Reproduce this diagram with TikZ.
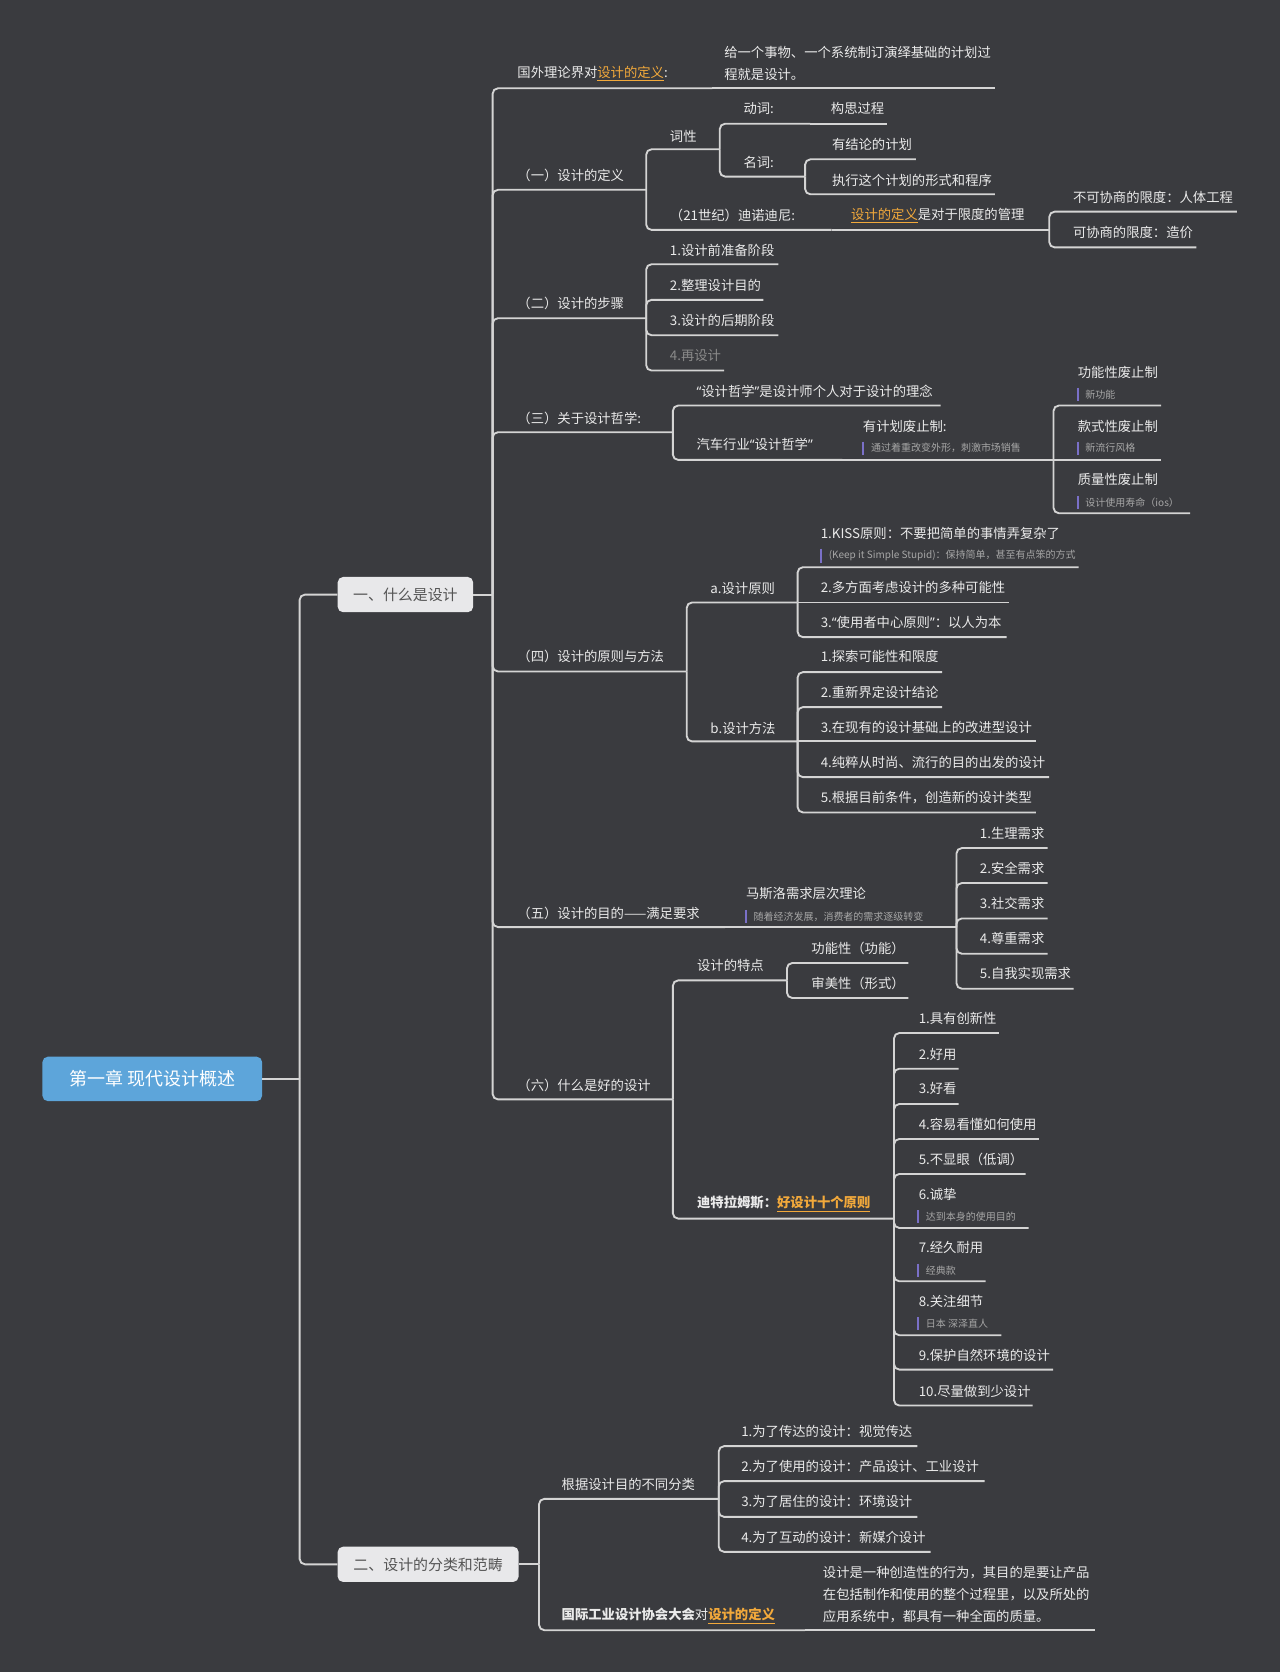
\documentclass[tikz,border=0pt]{standalone}
\usepackage{fontspec}
\newfontfamily\cjk{Noto Sans CJK SC}
\newfontfamily\lat{Noto Sans}
\newcommand\qo{{\lat “}}
\newcommand\qc{{\lat ”}}
\definecolor{bg}{HTML}{3A3B3F}
\definecolor{lc}{HTML}{D4D4D4}
\definecolor{tc}{HTML}{EAEAEA}
\definecolor{nc}{HTML}{A6A6A6}
\definecolor{hlc}{HTML}{F2A93B}
\definecolor{barc}{HTML}{7A70C8}
\definecolor{rootc}{HTML}{5DA5DA}
\definecolor{lonec}{HTML}{E8E8EA}
\definecolor{lonet}{HTML}{555555}
\definecolor{dimc}{HTML}{8A8A8A}
\newcommand\hlt[1]{\textcolor{hlc}{\underline{#1}}}
\tikzset{
  ln/.style={draw=lc, line width=1.4pt, rounded corners=4pt},
  tx/.style={anchor=west, inner sep=0pt, text=tc, font=\cjk\fontsize{10}{12}\selectfont},
  nt/.style={anchor=west, inner sep=0pt, text=nc, font=\cjk\fontsize{7.5}{9}\selectfont},
  barst/.style={draw=barc, line width=1.6pt},
  rootbox/.style={fill=rootc, rounded corners=4pt, minimum width=164.8pt, minimum height=33.3pt, text=white, font=\cjk\fontsize{13.5}{16}\selectfont, inner sep=0pt},
  lonebox/.style={fill=lonec, rounded corners=4pt, minimum height=26.4pt, text=lonet, font=\cjk\fontsize{11.2}{13}\selectfont, inner sep=0pt},
}
% name, x, y, text, end x, end y, parent end
\newcommand\lf[7]{\node[tx] (#1) at (#2,#3) {#4}; \coordinate (#1e) at (#5,#6); \draw[ln] (#7) |- (#1e);}
\newcommand\lfs[7]{\node[tx] (#1) at (#2,#3) {#4}; \coordinate (#1e) at (#5,#6); \draw[ln] (#7) -- (#1e);}
\newcommand\nnote[4]{\node[nt] (#1) at (#2,#3) {#4}; \draw[barst] ([xshift=-5.6pt,yshift=1.2pt]#1.north west) -- ([xshift=-5.6pt,yshift=-1.2pt]#1.south west);}
\begin{document}
\begin{tikzpicture}[x=0.8pt, y=-0.8pt]
\fill[bg] (0,0) rectangle (1200,1568);
\useasboundingbox (0,0) rectangle (1200,1568);

% root and level 1
\node[rootbox] (root) at (142.8,1011.8) {第一章 现代设计概述};
\node[lonebox, minimum width=101.6pt] (L1a) at (380.2,557.6) {一、什么是设计};
\node[lonebox, minimum width=135.8pt] (L1b) at (401.5,1467) {二、设计的分类和范畴};
\coordinate (Tr) at (281,1011.8);
\draw[ln] (root.east) -- (Tr);
\draw[ln] (Tr) |- (L1a.west);
\draw[ln] (Tr) |- (L1b.west);
\coordinate (Ta) at (462,557.6);
\draw[ln] (L1a.east) -- (Ta);
\coordinate (Tb) at (505.5,1467);
\draw[ln] (L1b.east) -- (Tb);

% A1
\lf{A1}{485}{68.7}{国外理论界对\hlt{设计的定义}:}{668}{82.8}{Ta}
\node[tx, align=left, font=\cjk\fontsize{10}{16.2}\selectfont] (A1c) at (679,59.5) {给一个事物、一个系统制订演绎基础的计划过\\程就是设计。};
\coordinate (A1ce) at (933,82.8);
\draw[ln] (A1e) -- (A1ce);

% B
\lf{B}{485}{164.4}{（一）设计的定义}{606}{178}{Ta}
\lf{Bone}{628}{127.5}{词性}{675}{140}{Be}
\lf{Bonea}{697}{102}{动词:}{760}{116}{Bonee}
\lfs{Boneac}{779}{102}{构思过程}{832}{116}{Boneae}
\lf{Boneb}{697}{152}{名词:}{755}{165.6}{Bonee}
\lf{Bonebi}{780}{135.3}{有结论的计划}{859}{149.4}{Bonebe}
\lf{Bonebii}{780}{168.9}{执行这个计划的形式和程序}{933}{182.2}{Bonebe}
\lf{Btwo}{628}{202}{（21世纪）迪诺迪尼:}{780}{215.6}{Be}
\lfs{Btwoc}{798}{202}{\hlt{设计的定义}是对于限度的管理}{984}{215.6}{Btwoe}
\lf{Btwoci}{1006}{185.3}{不可协商的限度：人体工程}{1160}{198.5}{Btwoce}
\lf{Btwocii}{1006}{218}{可协商的限度：造价}{1122}{232}{Btwoce}

% C
\lf{C}{485}{284.4}{（二）设计的步骤}{606}{298.4}{Ta}
\lf{Ci}{628}{234.4}{1.设计前准备阶段}{730}{247.8}{Ce}
\lf{Cii}{628}{267.2}{2.整理设计目的}{716}{281.2}{Ce}
\lf{Ciii}{628}{300.6}{3.设计的后期阶段}{730}{314.4}{Ce}
\lf{Civ}{628}{333.8}{\textcolor{dimc}{4.再设计}}{679}{347.5}{Ce}

% D
\lf{D}{485}{392.2}{（三）关于设计哲学:}{631}{405.3}{Ta}
\lf{Di}{653}{367.2}{\qo 设计哲学\qc 是设计师个人对于设计的理念}{882}{380.3}{De}
\lf{Dii}{653}{417.2}{汽车行业\qo 设计哲学\qc}{790}{431.3}{De}
\lfs{Diic}{809}{400}{有计划废止制:}{988}{431.3}{Diie}
\nnote{Diicn}{816.6}{420.3}{通过着重改变外形，刺激市场销售}
\lf{Diica}{1010.6}{349.4}{功能性废止制}{1089}{380.3}{Diice}
\nnote{Diican}{1017.7}{369.7}{新功能}
\lfs{Diicb}{1010.6}{400}{款式性废止制}{1089}{431.3}{Diice}
\nnote{Diicbn}{1017.7}{420.3}{新流行风格}
\lf{Diicc}{1010.6}{450}{质量性废止制}{1116}{481.3}{Diice}
\nnote{Diiccn}{1017.7}{471.3}{设计使用寿命（ios）}

% E
\lf{E}{485}{615.6}{（四）设计的原则与方法}{644}{629.7}{Ta}
\lf{Ei}{666}{551.6}{a.设计原则}{748}{565}{Ee}
\lf{Eia}{769.5}{500.6}{1.KISS原则：不要把简单的事情弄复杂了}{1011.6}{531.9}{Eie}
\nnote{Eian}{777}{521.2}{(Keep it Simple Stupid)：保持简单，甚至有点笨的方式}
\lfs{Eib}{769.5}{551}{2.多方面考虑设计的多种可能性}{946}{565}{Eie}
\lf{Eic}{769.5}{583.7}{3.\qo 使用者中心原则\qc：以人为本}{944}{597.5}{Eie}
\lf{Eii}{666}{682.8}{b.设计方法}{748}{695.3}{Ee}
\lf{Eiia}{769.5}{615.6}{1.探索可能性和限度}{883.5}{630.3}{Eiie}
\lf{Eiib}{769.5}{649}{2.重新界定设计结论}{883.5}{663.1}{Eiie}
\lfs{Eiic}{769.5}{681.9}{3.在现有的设计基础上的改进型设计}{971.5}{695.3}{Eiie}
\lf{Eiid}{769.5}{714.7}{4.纯粹从时尚、流行的目的出发的设计}{983.8}{728.8}{Eiie}
\lf{Eiie2}{769.5}{747.5}{5.根据目前条件，创造新的设计类型}{971.5}{761.9}{Eiie}

% F
\lf{F}{485}{856.3}{（五）设计的目的——满足要求}{680}{869.4}{Ta}
\lfs{Fi}{699.4}{838.1}{马斯洛需求层次理论}{897}{869.4}{Fe}
\nnote{Fin}{706.4}{859.4}{随着经济发展，消费者的需求逐级转变}
\lf{Fia}{918.7}{781.3}{1.生理需求}{982.5}{795.3}{Fie}
\lf{Fib}{918.7}{814.7}{2.安全需求}{982.5}{828.1}{Fie}
\lf{Fic}{918.7}{847.5}{3.社交需求}{982.5}{861.3}{Fie}
\lf{Fid}{918.7}{880.3}{4.尊重需求}{982.5}{894.4}{Fie}
\lf{Fie2}{918.7}{913.1}{5.自我实现需求}{1006.8}{927.2}{Fie}

% G
\lf{G}{485}{1017.8}{（六）什么是好的设计}{631}{1031}{Ta}
\lf{Gi}{653.5}{905.6}{设计的特点}{738}{919.4}{Ge}
\lf{Gia}{760.7}{889}{功能性（功能）}{851.8}{903.1}{Gie}
\lf{Gib}{760.7}{921.9}{审美性（形式）}{851.8}{935.9}{Gie}
\lf{Gii}{653.5}{1129}{{\bfseries 迪特拉姆斯：\hlt{好设计十个原则}}}{838.4}{1142.8}{Ge}
\lf{Gii1}{861.4}{955.3}{1.具有创新性}{936.7}{968.75}{Giie}
\lf{Gii2}{861.4}{988.4}{2.好用}{898.9}{1002.2}{Giie}
\lf{Gii3}{861.4}{1021.2}{3.好看}{898.9}{1035.3}{Giie}
\lf{Gii4}{861.4}{1054}{4.容易看懂如何使用}{974.3}{1068.1}{Giie}
\lf{Gii5}{861.4}{1087.5}{5.不显眼（低调）}{961.9}{1100.9}{Giie}
\lf{Gii6}{861.4}{1120.3}{6.诚挚}{964.7}{1151.6}{Giie}
\nnote{Gii6n}{868}{1141.2}{达到本身的使用目的}
\lf{Gii7}{861.4}{1170.3}{7.经久耐用}{924.4}{1201.6}{Giie}
\nnote{Gii7n}{868}{1191.2}{经典款}
\lf{Gii8}{861.4}{1220.9}{8.关注细节}{939}{1252.2}{Giie}
\nnote{Gii8n}{868}{1241.2}{日本 深泽直人}
\lf{Gii9}{861.4}{1271.2}{9.保护自然环境的设计}{987.7}{1284.4}{Giie}
\lf{Gii10}{861.4}{1304.7}{10.尽量做到少设计}{968.4}{1318.1}{Giie}

% H
\lf{H}{526.5}{1392.2}{根据设计目的不同分类}{674}{1405.6}{Tb}
\lf{Ha}{694.9}{1342.8}{1.为了传达的设计：视觉传达}{860.3}{1356.2}{He}
\lf{Hb}{694.9}{1375.6}{2.为了使用的设计：产品设计、工业设计}{923.3}{1389}{He}
\lf{Hc}{694.9}{1408.4}{3.为了居住的设计：环境设计}{860.3}{1422.5}{He}
\lf{Hd}{694.9}{1441.6}{4.为了互动的设计：新媒介设计}{872.8}{1455.3}{He}
\lf{Hii}{526.5}{1515.6}{{\bfseries 国际工业设计协会大会}对\hlt{\bfseries 设计的定义}}{755}{1528.8}{Tb}
\node[tx, align=left, font=\cjk\fontsize{10}{16.2}\selectfont] (Hiic) at (771.5,1495.3) {设计是一种创造性的行为，其目的是要让产品\\在包括制作和使用的整个过程里，以及所处的\\应用系统中，都具有一种全面的质量。};
\coordinate (Hiice) at (1027,1528.8);
\draw[ln] (Hiie) -- (Hiice);
\end{tikzpicture}
\end{document}
